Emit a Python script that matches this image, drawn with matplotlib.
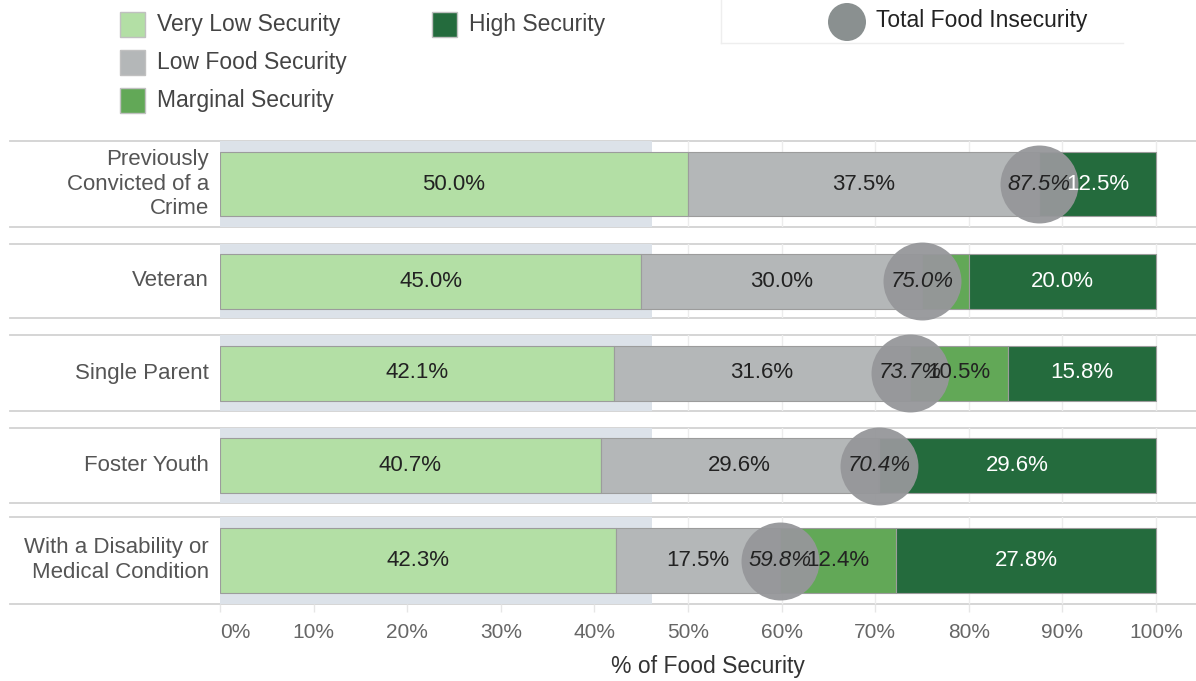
import matplotlib.pyplot as plt
from matplotlib.patches import Rectangle, Ellipse

plt.rcParams['font.family'] = ['Liberation Sans', 'DejaVu Sans']

# data (percent of respondents in each group)
groups = ["Previously\nConvicted of a\nCrime", "Veteran", "Single Parent",
          "Foster Youth", "With a Disability or\nMedical Condition"]
series_names = ["Very Low Security", "Low Food Security", "Marginal Security", "High Security"]
very_low = [50.0, 45.0, 42.1, 40.7, 42.3]
low_food = [37.5, 30.0, 31.6, 29.6, 17.5]
marginal = [0.0, 5.0, 10.5, 0.1, 12.4]
high_sec = [12.5, 20.0, 15.8, 29.6, 27.8]
total_insecure = [87.5, 75.0, 73.7, 70.4, 59.8]
ref_band = 46.2
ticks = list(range(0, 101, 10))
tick_labels = [f"{t}%" for t in ticks]

colors = ["#b3dfa5", "#b4b7b8", "#62a857", "#246b3d"]
label_colors = ["#222222", "#222222", "#222222", "#ffffff"]

# layout (pixels)
W, H = 1196, 681
x0_px, x100_px = 220, 1156
pane_top = [141, 244, 335, 428, 517]
pane_h = [86, 74, 76, 75, 87]
bar_h = [64, 55, 55, 55, 65]
xmax = 100 * (W - x0_px) / (x100_px - x0_px)

fig = plt.figure(figsize=(W / 100, H / 100), dpi=100)
bg = fig.add_axes([0, 0, 1, 1])
bg.set_xlim(0, W)
bg.set_ylim(H, 0)
bg.axis('off')

series = [very_low, low_food, marginal, high_sec]

for i, name in enumerate(groups):
    top, h = pane_top[i], pane_h[i]
    ax = fig.add_axes([x0_px / W, 1 - (top + h) / H, (W - x0_px) / W, h / H])
    ax.set_xlim(0, xmax)
    ax.set_ylim(-h / 2, h / 2)
    for s in ax.spines.values():
        s.set_visible(False)
    ax.set_yticks([])
    ax.patch.set_alpha(0)

    for t in ticks:
        ax.axvline(t, color='#ececec', lw=1, zorder=0)
    ax.axvspan(0, ref_band, color='#dce2e9', lw=0, zorder=1)

    left = 0
    for j, vals in enumerate(series):
        w = vals[i]
        if w > 0:
            ax.barh(0, w, left=left, height=bar_h[i], color=colors[j],
                    edgecolor='#9c9c9c', lw=0.8, zorder=2)
            if w >= 8:
                ax.text(left + w / 2, 0, f"{w:.1f}%", ha='center', va='center',
                        fontsize=16, color=label_colors[j], zorder=5)
        left += w

    ax.scatter([total_insecure[i]], [0], s=3150, color='#96979a', alpha=0.95,
               lw=0, zorder=3, clip_on=False)
    ax.text(total_insecure[i], 0, f"{total_insecure[i]:.1f}%", ha='center',
            va='center', fontsize=16, style='italic', color='#222222', zorder=6)

    if i == len(groups) - 1:
        ax.set_xticks(ticks)
        ax.set_xticklabels(tick_labels)
        ax.tick_params(axis='x', length=6, width=1, color='#e6e6e6', pad=8,
                       labelsize=15, labelcolor='#666666')
        ax.get_xticklabels()[0].set_horizontalalignment('left')
    else:
        ax.set_xticks([])

    # separators and category label
    for y in (top, top + h):
        bg.plot([10, W], [y, y], color='#d2d2d2', lw=1.3)
    bg.text(209, top + h / 2, name, ha='right', va='center', fontsize=16,
            color='#555555', linespacing=1.25)

bg.text((x0_px + W) / 2, 667, "% of Food Security", ha='center', va='center',
        fontsize=16.5, color='#333333')

# colour legend
legend_pos = [(120, 24), (120, 62), (120, 100), (432, 24)]
for (lx, ly), name, c in zip(legend_pos, series_names, colors):
    bg.add_patch(Rectangle((lx, ly - 12), 25, 25, facecolor=c, edgecolor='#c0c0c0', lw=1))
    bg.text(lx + 37, ly, name, ha='left', va='center', fontsize=16.5, color='#444444')

# total food insecurity legend
bg.plot([721, 721], [0, 43], color='#eeeeee', lw=1)
bg.plot([721, 1123], [43, 43], color='#eeeeee', lw=1)
bg.add_patch(Ellipse((847, 22), 38, 38, facecolor='#8a9090', lw=0))
bg.text(876, 21, "Total Food Insecurity", ha='left', va='center', fontsize=16.5,
        color='#222222')

fig.savefig("out.png", dpi=100)
